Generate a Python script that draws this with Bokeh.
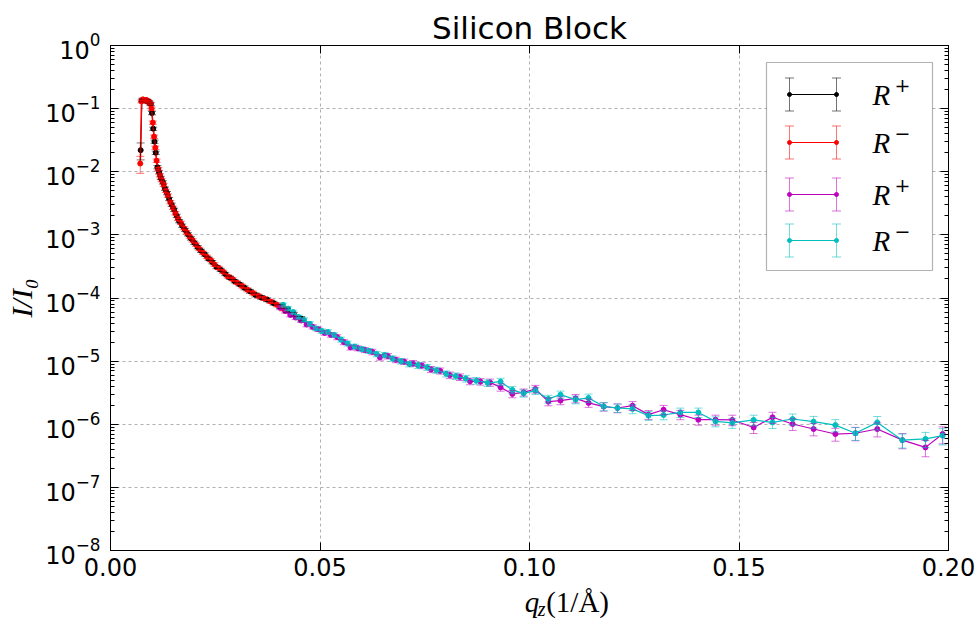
from bokeh.plotting import figure
from bokeh.layouts import column
from bokeh.models import (Range1d, FixedTicker, LogTickFormatter, NumeralTickFormatter,
                          LinearAxis, LogAxis, Whisker, TeeHead, ColumnDataSource,
                          BoxAnnotation, Label, CustomJSTickFormatter)
from bokeh.embed import file_html
from bokeh.resources import INLINE

# ---------------- data ----------------
title_text = "Silicon Block"
y_label_text = "I/I\u2080"
x_label_parts = ["q", "z", "(1/\u00c5)"]
x_ticks = [0.0, 0.05, 0.10, 0.15, 0.20]
y_decades = [-8, -7, -6, -5, -4, -3, -2, -1, 0]

# R+ (first run, black)
q_k = [0.0072, 0.0075, 0.0078, 0.0081, 0.0084, 0.0087, 0.0090, 0.0093, 0.0096, 0.0099,
       0.0102, 0.0105, 0.0108, 0.0112, 0.0116, 0.0120, 0.0125, 0.0130, 0.0135, 0.0140,
       0.0146, 0.0152, 0.0158, 0.0164, 0.0171, 0.0178, 0.0185, 0.0192, 0.0200, 0.0208,
       0.0216, 0.0225, 0.0234, 0.0243, 0.0253, 0.0263, 0.0274, 0.0285, 0.0296, 0.0308,
       0.0320, 0.0333, 0.0346, 0.0360, 0.0374, 0.0389, 0.0405, 0.0421, 0.0438, 0.0455]
r_k = [0.022, 0.135, 0.138, 0.136, 0.134, 0.133, 0.130, 0.125, 0.118, 0.085,
       0.048, 0.030, 0.020, 0.0118, 0.0098, 0.0080, 0.0068, 0.0054, 0.0046, 0.0037,
       0.0030, 0.0025, 0.0020, 0.00165, 0.00140, 0.00120, 0.00102, 0.00088, 0.00075, 0.00064,
       0.00056, 0.00049, 0.00042, 0.00037, 0.00031, 0.00028, 0.00024, 0.00021, 0.000185, 0.000165,
       0.000145, 0.000128, 0.000112, 0.000102, 0.000094, 0.000083, 0.000073, 0.000064, 0.000055, 0.000047]
e_k = [0.30, 0.05, 0.05, 0.05, 0.05, 0.05, 0.05, 0.05, 0.05, 0.06,
       0.06, 0.06, 0.06, 0.06, 0.06, 0.06, 0.06, 0.06, 0.06, 0.06,
       0.06, 0.06, 0.06, 0.06, 0.06, 0.06, 0.06, 0.06, 0.06, 0.06,
       0.06, 0.06, 0.06, 0.06, 0.06, 0.06, 0.06, 0.06, 0.06, 0.06,
       0.07, 0.07, 0.07, 0.07, 0.07, 0.07, 0.07, 0.08, 0.08, 0.08]

# R- (first run, red)
q_r = [0.0071, 0.0074, 0.0077, 0.0080, 0.0083, 0.0086, 0.0089, 0.0092, 0.0095, 0.0098,
       0.0101, 0.0104, 0.0107, 0.0110, 0.0114, 0.0118, 0.0122, 0.0127, 0.0132, 0.0137,
       0.0143, 0.0149, 0.0155, 0.0161, 0.0168, 0.0175, 0.0182, 0.0189, 0.0196, 0.0204,
       0.0212, 0.0221, 0.0230, 0.0239, 0.0248, 0.0258, 0.0269, 0.0280, 0.0291, 0.0302,
       0.0314, 0.0327, 0.0340, 0.0353, 0.0367, 0.0382, 0.0397, 0.0412]
r_r = [0.0135, 0.130, 0.140, 0.138, 0.135, 0.137, 0.131, 0.128, 0.120, 0.100,
       0.060, 0.036, 0.024, 0.0150, 0.0110, 0.0088, 0.0074, 0.0062, 0.0050, 0.0042,
       0.0033, 0.0027, 0.0022, 0.0018, 0.00155, 0.00128, 0.00110, 0.00094, 0.00082, 0.00070,
       0.00060, 0.00052, 0.00045, 0.00040, 0.00034, 0.00030, 0.00026, 0.00022, 0.00020, 0.000175,
       0.000155, 0.000135, 0.000120, 0.000108, 0.000098, 0.000088, 0.000078, 0.000068]
e_r = [0.30, 0.05, 0.05, 0.05, 0.05, 0.05, 0.05, 0.05, 0.05, 0.06,
       0.06, 0.06, 0.06, 0.06, 0.06, 0.06, 0.06, 0.06, 0.06, 0.06,
       0.06, 0.06, 0.06, 0.06, 0.06, 0.06, 0.06, 0.06, 0.06, 0.06,
       0.06, 0.06, 0.06, 0.06, 0.06, 0.06, 0.06, 0.06, 0.06, 0.06,
       0.07, 0.07, 0.07, 0.07, 0.07, 0.07, 0.07, 0.08]

# R+ (second run, magenta)
q_m = [0.0405, 0.0417, 0.0429, 0.0442, 0.0455, 0.0468, 0.0482, 0.0496, 0.0511, 0.0526,
       0.0541, 0.0557, 0.0573, 0.0590, 0.0607, 0.0625, 0.0643, 0.0662, 0.0681, 0.0701,
       0.0722, 0.0743, 0.0765, 0.0787, 0.0810, 0.0834, 0.0858, 0.0883, 0.0906, 0.0931,
       0.0959, 0.0986, 0.1014, 0.1045, 0.1074, 0.1110, 0.1141, 0.1177, 0.1210, 0.1246,
       0.1284, 0.1320, 0.1360, 0.1403, 0.1444, 0.1484, 0.1535, 0.1580, 0.1628, 0.1678,
       0.1730, 0.1778, 0.1830, 0.1890, 0.1945, 0.1986]
r_m = [7.0e-5, 6.2e-5, 5.4e-5, 4.9e-5, 4.4e-5, 3.8e-5, 3.5e-5, 3.2e-5, 2.8e-5, 2.6e-5,
       2.4e-5, 2.0e-5, 1.65e-5, 1.6e-5, 1.5e-5, 1.4e-5, 1.15e-5, 1.2e-5, 1.05e-5, 9.8e-6,
       9.2e-6, 8.5e-6, 7.4e-6, 7.0e-6, 6.0e-6, 5.6e-6, 4.8e-6, 4.73e-6, 4.6e-6, 3.84e-6,
       3.02e-6, 3.2e-6, 3.62e-6, 2.28e-6, 2.37e-6, 2.57e-6, 2.18e-6, 1.90e-6, 1.81e-6, 1.97e-6,
       1.42e-6, 1.70e-6, 1.42e-6, 1.18e-6, 1.18e-6, 1.17e-6, 8.9e-7, 1.29e-6, 1.01e-6, 8.4e-7,
       7.0e-7, 7.2e-7, 8.4e-7, 5.6e-7, 4.3e-7, 7.0e-7]
e_m = [0.07, 0.07, 0.07, 0.07, 0.07, 0.08, 0.08, 0.08, 0.08, 0.08,
       0.09, 0.09, 0.09, 0.09, 0.09, 0.10, 0.10, 0.10, 0.10, 0.10,
       0.11, 0.11, 0.11, 0.11, 0.12, 0.12, 0.12, 0.12, 0.13, 0.13,
       0.13, 0.13, 0.14, 0.14, 0.14, 0.15, 0.15, 0.15, 0.16, 0.16,
       0.16, 0.17, 0.17, 0.18, 0.18, 0.19, 0.20, 0.20, 0.21, 0.22,
       0.23, 0.24, 0.25, 0.27, 0.29, 0.30]

# R- (second run, cyan)
q_c = [0.0412, 0.0424, 0.0436, 0.0449, 0.0462, 0.0476, 0.0490, 0.0504, 0.0519, 0.0534,
       0.0550, 0.0566, 0.0583, 0.0600, 0.0617, 0.0635, 0.0654, 0.0673, 0.0693, 0.0713,
       0.0734, 0.0756, 0.0778, 0.0801, 0.0824, 0.0848, 0.0873, 0.0900, 0.0931, 0.0959,
       0.0986, 0.1014, 0.1045, 0.1074, 0.1110, 0.1141, 0.1177, 0.1210, 0.1246, 0.1284,
       0.1320, 0.1360, 0.1403, 0.1444, 0.1484, 0.1535, 0.1580, 0.1628, 0.1678, 0.1730,
       0.1778, 0.1830, 0.1890, 0.1945, 0.1986]
r_c = [7.8e-5, 6.8e-5, 6.0e-5, 5.0e-5, 4.5e-5, 3.9e-5, 3.3e-5, 3.0e-5, 2.9e-5, 2.6e-5,
       2.2e-5, 1.9e-5, 1.7e-5, 1.55e-5, 1.45e-5, 1.3e-5, 1.25e-5, 1.1e-5, 1.0e-5, 9.0e-6,
       8.6e-6, 8.0e-6, 7.2e-6, 6.3e-6, 5.8e-6, 5.3e-6, 4.9e-6, 4.51e-6, 4.73e-6, 3.50e-6,
       3.09e-6, 3.40e-6, 2.52e-6, 2.94e-6, 2.45e-6, 2.61e-6, 1.92e-6, 1.81e-6, 1.75e-6, 1.37e-6,
       1.40e-6, 1.54e-6, 1.54e-6, 1.11e-6, 1.05e-6, 1.17e-6, 1.07e-6, 1.21e-6, 1.10e-6, 9.7e-7,
       7.2e-7, 1.07e-6, 5.6e-7, 5.85e-7, 6.6e-7]
e_c = [0.07, 0.07, 0.07, 0.07, 0.07, 0.08, 0.08, 0.08, 0.08, 0.08,
       0.09, 0.09, 0.09, 0.09, 0.09, 0.10, 0.10, 0.10, 0.10, 0.10,
       0.11, 0.11, 0.11, 0.11, 0.12, 0.12, 0.12, 0.12, 0.13, 0.13,
       0.13, 0.13, 0.14, 0.14, 0.14, 0.15, 0.15, 0.15, 0.16, 0.16,
       0.16, 0.17, 0.17, 0.18, 0.18, 0.19, 0.20, 0.20, 0.21, 0.22,
       0.23, 0.24, 0.25, 0.27, 0.29]

series = [
    ("+", "#000000", q_k, r_k, e_k, 1.0),
    ("\u2212", "#ff0000", q_r, r_r, e_r, 1.5),
    ("+", "#bf00bf", q_m, r_m, e_m, 1.2),
    ("\u2212", "#00bfbf", q_c, r_c, e_c, 1.2),
]

# ---------------- main figure ----------------
W, H = 979, 621
LABEL_STRIP = 34          # strip under the plot that carries the x-axis label
X_LO, X_HI = 0.0, 0.2
Y_LO_EXP, Y_HI_EXP = -8, 0
FRAME_L, FRAME_T = 110, 45
FRAME_W, FRAME_H = 838, 505
MAIN_H = H - LABEL_STRIP

p = figure(width=W, height=MAIN_H, x_range=Range1d(X_LO, X_HI),
           y_range=Range1d(10.0 ** Y_LO_EXP, 10.0 ** Y_HI_EXP), y_axis_type="log",
           output_backend="svg", toolbar_location=None, title=title_text,
           min_border_left=FRAME_L, min_border_right=W - FRAME_L - FRAME_W,
           min_border_top=FRAME_T, min_border_bottom=MAIN_H - FRAME_T - FRAME_H)
p.background_fill_color = "white"
p.border_fill_color = "white"
p.outline_line_color = "black"
p.outline_line_width = 1
p.title.align = "center"
p.title.text_font = "DejaVu Sans"
p.title.text_font_size = "31px"
p.title.text_font_style = "normal"
p.title.text_color = "black"
p.title.standoff = 0


def fx(f):
    return X_LO + f * (X_HI - X_LO)


def fy(f):
    return 10.0 ** (Y_LO_EXP + f * (Y_HI_EXP - Y_LO_EXP))


def cx(px):  # canvas pixel -> data x
    return fx((px - FRAME_L) / FRAME_W)


def cy(py):  # canvas pixel -> data y
    return fy(1 - (py - FRAME_T) / FRAME_H)


y_major = [10.0 ** d for d in y_decades]
y_minor = [k * 10.0 ** d for d in y_decades[:-1] for k in range(2, 10)]
xticker = FixedTicker(ticks=x_ticks, minor_ticks=[])
yticker = FixedTicker(ticks=y_major, minor_ticks=y_minor)

TICK_FONT = "DejaVu Sans"
TICK_SIZE = "24px"

xa = p.xaxis[0]
xa.ticker = xticker
xa.formatter = NumeralTickFormatter(format="0.00")
ya = p.yaxis[0]
ya.ticker = yticker
ya.formatter = LogTickFormatter()
for ax in (xa, ya):
    ax.major_label_text_font = TICK_FONT
    ax.major_label_text_font_size = TICK_SIZE
    ax.major_label_text_color = "black"
    ax.major_tick_in = 8
    ax.major_tick_out = 0
    ax.minor_tick_in = 4
    ax.minor_tick_out = 0
    ax.axis_line_color = "black"
    ax.major_tick_line_color = "black"
    ax.minor_tick_line_color = "black"
xa.major_label_standoff = 7
ya.major_label_standoff = 10
xa.axis_label = None
ya.axis_label = y_label_text
ya.axis_label_text_font = "Liberation Serif"
ya.axis_label_text_font_style = "italic"
ya.axis_label_text_font_size = "30px"
ya.axis_label_text_color = "black"
ya.axis_label_standoff = 4

blank = CustomJSTickFormatter(code="return ''")
top_ax = LinearAxis(ticker=xticker, formatter=blank, major_tick_in=8, major_tick_out=0,
                    minor_tick_in=0, minor_tick_out=0, major_label_text_font_size="1px",
                    major_label_standoff=0, axis_line_color="black")
right_ax = LogAxis(ticker=yticker, formatter=blank, major_tick_in=8, major_tick_out=0,
                   minor_tick_in=4, minor_tick_out=0, major_label_text_font_size="1px",
                   major_label_standoff=0, axis_line_color="black")
p.add_layout(top_ax, "above")
p.add_layout(right_ax, "right")

for g in (p.xgrid[0], p.ygrid[0]):
    g.grid_line_color = "#b0b0b0"
    g.grid_line_dash = "3 3"
    g.grid_line_width = 1
p.xgrid[0].ticker = xticker
p.ygrid[0].ticker = yticker

# ---------------- data series ----------------
for sign, color, q, r, e, lw in series:
    lo = [v * (1 - f) for v, f in zip(r, e)]
    hi = [v * (1 + f) for v, f in zip(r, e)]
    src = ColumnDataSource(dict(q=q, r=r, lo=lo, hi=hi))
    w = Whisker(source=src, base="q", lower="lo", upper="hi", dimension="height",
                line_color=color, line_alpha=0.55, line_width=1,
                upper_head=TeeHead(size=8, line_color=color, line_alpha=0.55, line_width=1),
                lower_head=TeeHead(size=8, line_color=color, line_alpha=0.55, line_width=1))
    w.level = "glyph"
    p.add_layout(w)
    p.line("q", "r", source=src, line_color=color, line_width=lw)
    p.scatter("q", "r", source=src, size=5, fill_color=color, line_color=color)

# ---------------- legend (drawn like matplotlib's errorbar legend) ----------------
box = BoxAnnotation(left=cx(766), right=cx(932), top=cy(62), bottom=cy(270),
                    fill_color="white", fill_alpha=1.0, line_color="black", line_width=1.2,
                    level="annotation")
p.add_layout(box)

rows_y = [94, 142, 194, 240]
x_a, x_b = 789, 836
half_bar = 16.5
half_cap = 4.5
for (sign, color, *_), ry in zip(series, rows_y):
    ytop, ybot, yc = cy(ry - half_bar), cy(ry + half_bar), cy(ry)
    seg = p.segment(x0=[cx(x_a), cx(x_b)], y0=[ybot, ybot], x1=[cx(x_a), cx(x_b)], y1=[ytop, ytop],
                    line_color=color, line_alpha=0.55, line_width=1)
    seg.level = "overlay"
    cx0 = [cx(x - half_cap) for x in (x_a, x_a, x_b, x_b)]
    cx1 = [cx(x + half_cap) for x in (x_a, x_a, x_b, x_b)]
    cyy = [ybot, ytop, ybot, ytop]
    caps = p.segment(x0=cx0, y0=cyy, x1=cx1, y1=cyy, line_color=color, line_alpha=0.55, line_width=1)
    caps.level = "overlay"
    ln = p.segment(x0=[cx(x_a)], y0=[yc], x1=[cx(x_b)], y1=[yc], line_color=color, line_width=1.2)
    ln.level = "overlay"
    dots = p.scatter(x=[cx(x_a), cx(x_b)], y=[yc, yc], size=4, fill_color=color, line_color=color)
    dots.level = "overlay"
    p.add_layout(Label(x=cx(872), y=yc, text="R", text_font="Liberation Serif",
                       text_font_style="italic", text_font_size="29px", text_baseline="middle",
                       text_align="left", text_color="black", level="overlay"))
    p.add_layout(Label(x=cx(894), y=cy(ry - 10), text=sign,
                       text_font="DejaVu Serif", text_font_size="19px", text_baseline="middle",
                       text_align="left", text_color="black", level="overlay"))

# ---------------- strip below carrying the x-axis label q_z(1/Å) ----------------
s = figure(width=W, height=LABEL_STRIP, x_range=Range1d(0, W), y_range=Range1d(LABEL_STRIP, 0),
           output_backend="svg", toolbar_location=None, x_axis_location=None,
           y_axis_location=None, min_border=0)
s.outline_line_color = None
s.background_fill_color = "white"
s.border_fill_color = "white"
s.grid.visible = False
ytop_strip = MAIN_H
for txt, px, py, size, style in [(x_label_parts[0], 484, 601, "29px", "italic"),
                                  (x_label_parts[1], 499, 608, "20px", "italic"),
                                  (x_label_parts[2], 509, 601, "29px", "normal")]:
    s.add_layout(Label(x=px, y=py - ytop_strip, text=txt,
                       text_font="Liberation Serif", text_font_style=style, text_font_size=size,
                       text_align="left", text_baseline="middle", text_color="black"))

layout = column(p, s, spacing=0)
open("out.html", "w").write(file_html(layout, INLINE))
